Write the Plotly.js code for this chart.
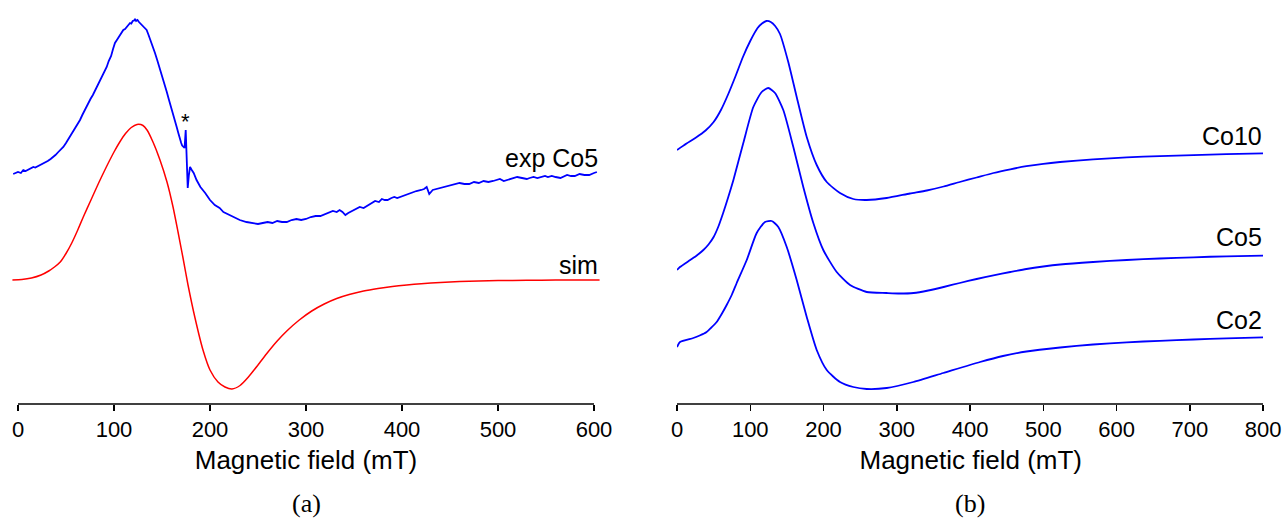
<!DOCTYPE html>
<html>
<head>
<meta charset="utf-8">
<script src="https://cdn.plot.ly/plotly-3.0.1.min.js"></script>
<style>html,body{margin:0;padding:0;background:#fff}#chart{width:1285px;height:518px}</style>
</head>
<body>
<div id="chart"></div>
<script>
// ---- Panel (a): experimental Co5 spectrum (blue) and simulation (red) ----
// x in mT, y in arbitrary offset units (larger = lower on the page)
const expX = [-5,-2,0,3,5.5,8,10,13,16,18,21,24,26.4,29,31,34,36.8,39,42,44.5,47.2,50,52,54,55.9,58,60,62,64.6,67,69,71,73.2,75.5,78,80,82,84.5,87,89.5,92.4,94.5,97,99,101,103,105,107.5,109.7,111.5,113,115,116.7,118,119.5,121,121.9,123,124.5,126,127,128.5,130,132,134,136,138,140,142.7,145,147,149,151.4,153,155,157,158.3,160,162,163.5,165.3,167,168,170,171,172.2,173.5,174.7,175.8,176.8,178,179.2,181,183,186,190,195,200,205,210,214,220,226,231,238,244,250,255,260,265,270,275,280,285,290,295,300,305,310,315,320,324,328,332,335,338,341,344,348,352,356,360,365,369,372,376,379,382,385,389,392,395,398,402,405,410,415,420,423,425.7,428.4,432,436,440,445,450,455,460,465,470,475,480,485,490,495,502,506,510,515,520,525,530,533,537,541,545,549,552,556,560,565,572,576,580,585,590,595,600,603,606];
const expY = [174,173,172,173,170,171,170,168.5,167,167.5,166,165,163,162.5,161,159,157,155,152,149.5,147,143,140,136,133,130,127,124.5,120,115,111,107.5,103,99,95,91,87,82,77,72,67,61,56,49,43,40,37,33.5,30,29,27,24.5,23,23.5,21,20.5,19,21,20,22,23,24,26,28,30,35,40,46,53,60,66,73,80,85,92,99,103,109,116,121,127,133,137,143,145.5,147,148,130,160,188,175,167,170,173,180,187,193,200,205,208,212,215,218,220,222,223,224,223,222,223,221,222,222,220,219,220,219,217,216,216,214,213,211,212,210,212,215,213,211,209,207,208,205,203,201,202,199,200,200,198,197,198,197,195,194,193,191,190,189,187,194,190,189,188,187,186,184,183,184,184,182,183,181,182,181,179,181,180,179,177,178,179,178,177,178,177,176,177,176,177,178,175,176,176,174,175,175,173,172];

const simX = [-6,4,14,24,32,38,44,50,56,62,68,76,84,92,100,106,112,118,124,130.2,134.4,140.6,147.9,155.2,161.5,166.7,171.9,177.1,184.4,192.7,200,208.3,215.6,222.9,231.3,240,250,260,270,280,293,306,319,332,345,360,375,390,405,420,440,460,480,500,530,560,606];
const simY = [280,279.5,278,275,271,267,262,253.5,243,230.5,217,200,183,167,152,142,133.5,127.5,124.5,125.5,130,142,160,182,207,232,258,285,318,350,370,382,387,389,385.5,377,365,352.5,341,331,320,311,304,298.5,294.5,291,288.5,286.5,285,283.8,282.5,281.6,281,280.6,280.3,280.1,280];

// ---- Panel (b): Co10, Co5, Co2 spectra ----
const co10X = [0,13,26,39,50,60,70,80,90,100,110,116,122,128,134,140.6,151.9,163.4,177.1,190.7,204.4,222.5,240.7,259,286.3,318,341,364,386,409,432,455,477,500,523,568,614,659,705,750,800];
const co10Y = [150,143.5,137.5,130.5,122,110,94,76,57,41,28,23.5,21,22,26,34,62,97,137,165,182,193,199,200,198,193.5,190.5,186.5,182,177.5,173,169.3,166.2,163.8,162,159.3,157.4,156.1,155.1,154.2,153.3];

const co5X = [0,4,18,27,36,43,50,56.5,63,70,77,90.5,104.2,115.6,124.6,133.8,145.1,158.8,172.4,186.1,199.7,218,236.2,259,286,304,323,343,364,386,409,432,455,477,500,523,568,614,659,705,750,800];
const co5Y = [270,267,260,255.5,250,244.5,237,226.5,213,197,180,143,107,92,88,93,110,147,187,223,250,272,285,292,293,293.5,293,290.5,287,283,279,275.3,272,269,266.5,264.5,262,260,258.5,257.3,256.3,255.7];

const co2X = [0,4.1,22.3,31,40.5,47,54.2,61,67.8,75,81.5,95.2,108.8,120.1,129.3,138.3,149.8,163.4,177.1,190.7,204.4,222.5,240.7,259,286.3,322.6,363.5,413.7,445,477,523,568,614,659,705,750,800];
const co2Y = [347,342,338,335.5,332,327.5,322,314,305,294.5,283,260,233,222,221,227,247,280,317,350,370,382,387,389,388,382,373,362,356,351.5,347.5,344.5,342.3,340.8,339.5,338.4,337.4];

const ticksA = [0,100,200,300,400,500,600];
const ticksB = [0,100,200,300,400,500,600,700,800];
const labelsA = ['exp Co5','sim'];
const labelsB = ['Co10','Co5','Co2'];

const W = 1285, H = 518;
const yBottomPx = 404;
const yDom0 = (H - yBottomPx) / H;
const sans = 'Liberation Sans, Arial, sans-serif';
const serif = 'Liberation Serif, DejaVu Serif, serif';

const traces = [
  {x: expX, y: expY, xaxis:'x', yaxis:'y', mode:'lines', line:{color:'#0000ff', width:1.8}, hoverinfo:'skip'},
  {x: simX, y: simY, xaxis:'x', yaxis:'y', mode:'lines', line:{color:'#ff0000', width:1.5, shape:'spline', smoothing:0.6}, hoverinfo:'skip'},
  {x: co10X, y: co10Y, xaxis:'x2', yaxis:'y2', mode:'lines', line:{color:'#0000ff', width:1.8, shape:'spline', smoothing:0.6}, hoverinfo:'skip'},
  {x: co5X, y: co5Y, xaxis:'x2', yaxis:'y2', mode:'lines', line:{color:'#0000ff', width:1.8, shape:'spline', smoothing:0.6}, hoverinfo:'skip'},
  {x: co2X, y: co2Y, xaxis:'x2', yaxis:'y2', mode:'lines', line:{color:'#0000ff', width:1.8, shape:'spline', smoothing:0.6}, hoverinfo:'skip'}
];

const xCommon = {
  showline:false, showgrid:false, zeroline:false,
  ticks:'outside', ticklen:6, tickwidth:1.5, tickcolor:'#000',
  tickfont:{family:sans, size:22, color:'#000'},
  anchor:'free', position: yDom0
};

const layout = {
  width:W, height:H,
  margin:{l:0, r:0, t:0, b:0, pad:0},
  paper_bgcolor:'#fff', plot_bgcolor:'#fff',
  showlegend:false,
  xaxis: Object.assign({}, xCommon, {
    domain:[12.24/W, 599.76/W], range:[-6,606], tickvals:ticksA,
    title:{text:'Magnetic field (mT)', font:{family:sans, size:26, color:'#000'}, standoff:9}
  }),
  xaxis2: Object.assign({}, xCommon, {
    domain:[677/W, 1264.5/W], range:[0,802], tickvals:ticksB,
    title:{text:'Magnetic field (mT)', font:{family:sans, size:26, color:'#000'}, standoff:9}
  }),
  yaxis: {domain:[yDom0,1], range:[yBottomPx,0], visible:false, anchor:'x'},
  yaxis2: {domain:[yDom0,1], range:[yBottomPx,0], visible:false, anchor:'x2'},
  shapes: [
    {type:'line', xref:'x', yref:'paper', x0:0, x1:600, y0:yDom0, y1:yDom0, line:{color:'#000', width:1.5}},
    {type:'line', xref:'x2', yref:'paper', x0:0, x1:800, y0:yDom0, y1:yDom0, line:{color:'#000', width:1.5}}
  ],
  annotations: [
    {xref:'x', yref:'y', x:606, y:158, text:labelsA[0], showarrow:false, xanchor:'right', yanchor:'middle', font:{family:sans, size:25, color:'#000'}},
    {xref:'x', yref:'y', x:606, y:265, text:labelsA[1], showarrow:false, xanchor:'right', yanchor:'middle', font:{family:sans, size:25, color:'#000'}},
    {xref:'x', yref:'y', x:174.7, y:121, text:'*', showarrow:false, xanchor:'center', yanchor:'middle', font:{family:sans, size:22, color:'#000'}},
    {xref:'x2', yref:'y2', x:801, y:136, text:labelsB[0], showarrow:false, xanchor:'right', yanchor:'middle', font:{family:sans, size:25, color:'#000'}},
    {xref:'x2', yref:'y2', x:801, y:237, text:labelsB[1], showarrow:false, xanchor:'right', yanchor:'middle', font:{family:sans, size:25, color:'#000'}},
    {xref:'x2', yref:'y2', x:801, y:320, text:labelsB[2], showarrow:false, xanchor:'right', yanchor:'middle', font:{family:sans, size:25, color:'#000'}},
    {xref:'paper', yref:'paper', x:306/W, y:(H-503)/H, text:'(a)', showarrow:false, xanchor:'center', yanchor:'middle', font:{family:serif, size:26, color:'#000'}},
    {xref:'paper', yref:'paper', x:970/W, y:(H-503)/H, text:'(b)', showarrow:false, xanchor:'center', yanchor:'middle', font:{family:serif, size:26, color:'#000'}}
  ]
};

Plotly.newPlot('chart', traces, layout, {staticPlot:true, displayModeBar:false});
</script>
</body>
</html>
